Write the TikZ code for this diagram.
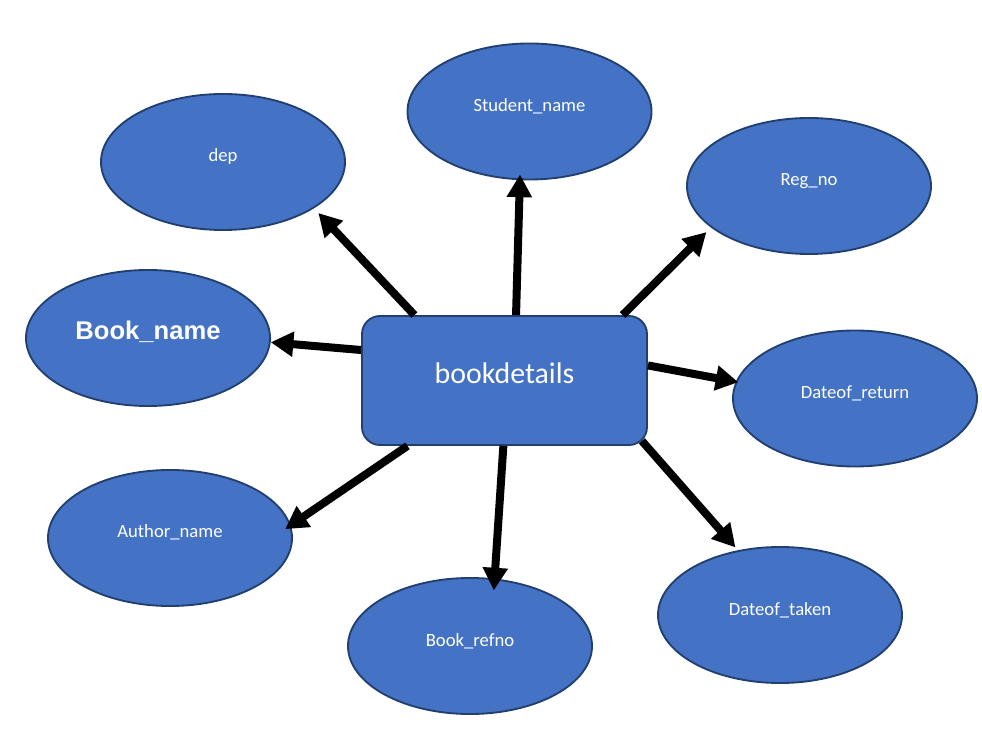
\documentclass[tikz,border=0pt]{standalone}
\usepackage{fontspec}
\setmainfont{Carlito}
\newfontfamily\arialfont{Liberation Sans}
\usetikzlibrary{shapes.geometric,arrows.meta}
\definecolor{attrfill}{HTML}{4472C4}
\definecolor{attrline}{HTML}{22406F}

\begin{document}
\begin{tikzpicture}[
        x=0.75pt, y=-0.75pt,
        attr/.style={ellipse, draw=attrline, line width=1.4pt, fill=attrfill, text=white,
            minimum width=183pt, minimum height=102pt,
            font=\fontsize{14pt}{16pt}\selectfont, text height=10pt, text depth=10pt},
        entity/.style={rectangle, rounded corners=13.5pt, draw=attrline, line width=1.4pt,
            fill=attrfill, text=white, minimum width=213.75pt, minimum height=96.75pt,
            font=\fontsize{22.4pt}{26pt}\selectfont, text height=18pt, text depth=12.8pt},
        arrow/.style={-{Triangle[length=17pt,width=18pt]}, line width=6pt}
    ]
        \useasboundingbox (0,0) rectangle (982,737);

        % Entity
        \node[entity] (bookdetails) at (504.5,380.5) {bookdetails};

        % Attributes
        \node[attr] (dep) at (223,162) {dep};
        \node[attr] (student) at (529.5,111.5) {Student\_name};
        \node[attr] (regno) at (809,186) {Reg\_no};
        \node[attr, font=\arialfont\bfseries\fontsize{19.2pt}{22pt}\selectfont,
            text height=14pt, text depth=11pt] (bookname) at (148,338) {Book\_name};
        \node[attr] (return) at (855,398.5) {Dateof\_return};
        \node[attr] (author) at (170,538) {Author\_name};
        \node[attr] (refno) at (470,646) {Book\_refno};
        \node[attr] (taken) at (780,615) {Dateof\_taken};

        % Arrows
        \draw[arrow, shorten >=4.8pt] (bookdetails.144.8) -- (dep.-27.2);
        \draw[arrow, shorten >=-4.3pt] (bookdetails.80.3) -- (student.-98.5);
        \draw[arrow, shorten >=4.8pt] (bookdetails.29) -- (regno.203.7);
        \draw[arrow] (bookdetails.168.1) -- (bookname.-2.3);
        \draw[arrow, shorten >=-2pt] (bookdetails.6.5) -- (return.172.7);
        \draw[arrow, shorten >=-5.2pt] (bookdetails.214.6) -- (author.6.2);
        \draw[arrow, shorten >=-9pt] (bookdetails.-91.6) -- (refno.70.1);
        \draw[arrow, shorten >=2.8pt] ([xshift=-4.5pt,yshift=3.75pt]bookdetails.south east) -- (taken.123.3);
    \end{tikzpicture}
\end{document}
